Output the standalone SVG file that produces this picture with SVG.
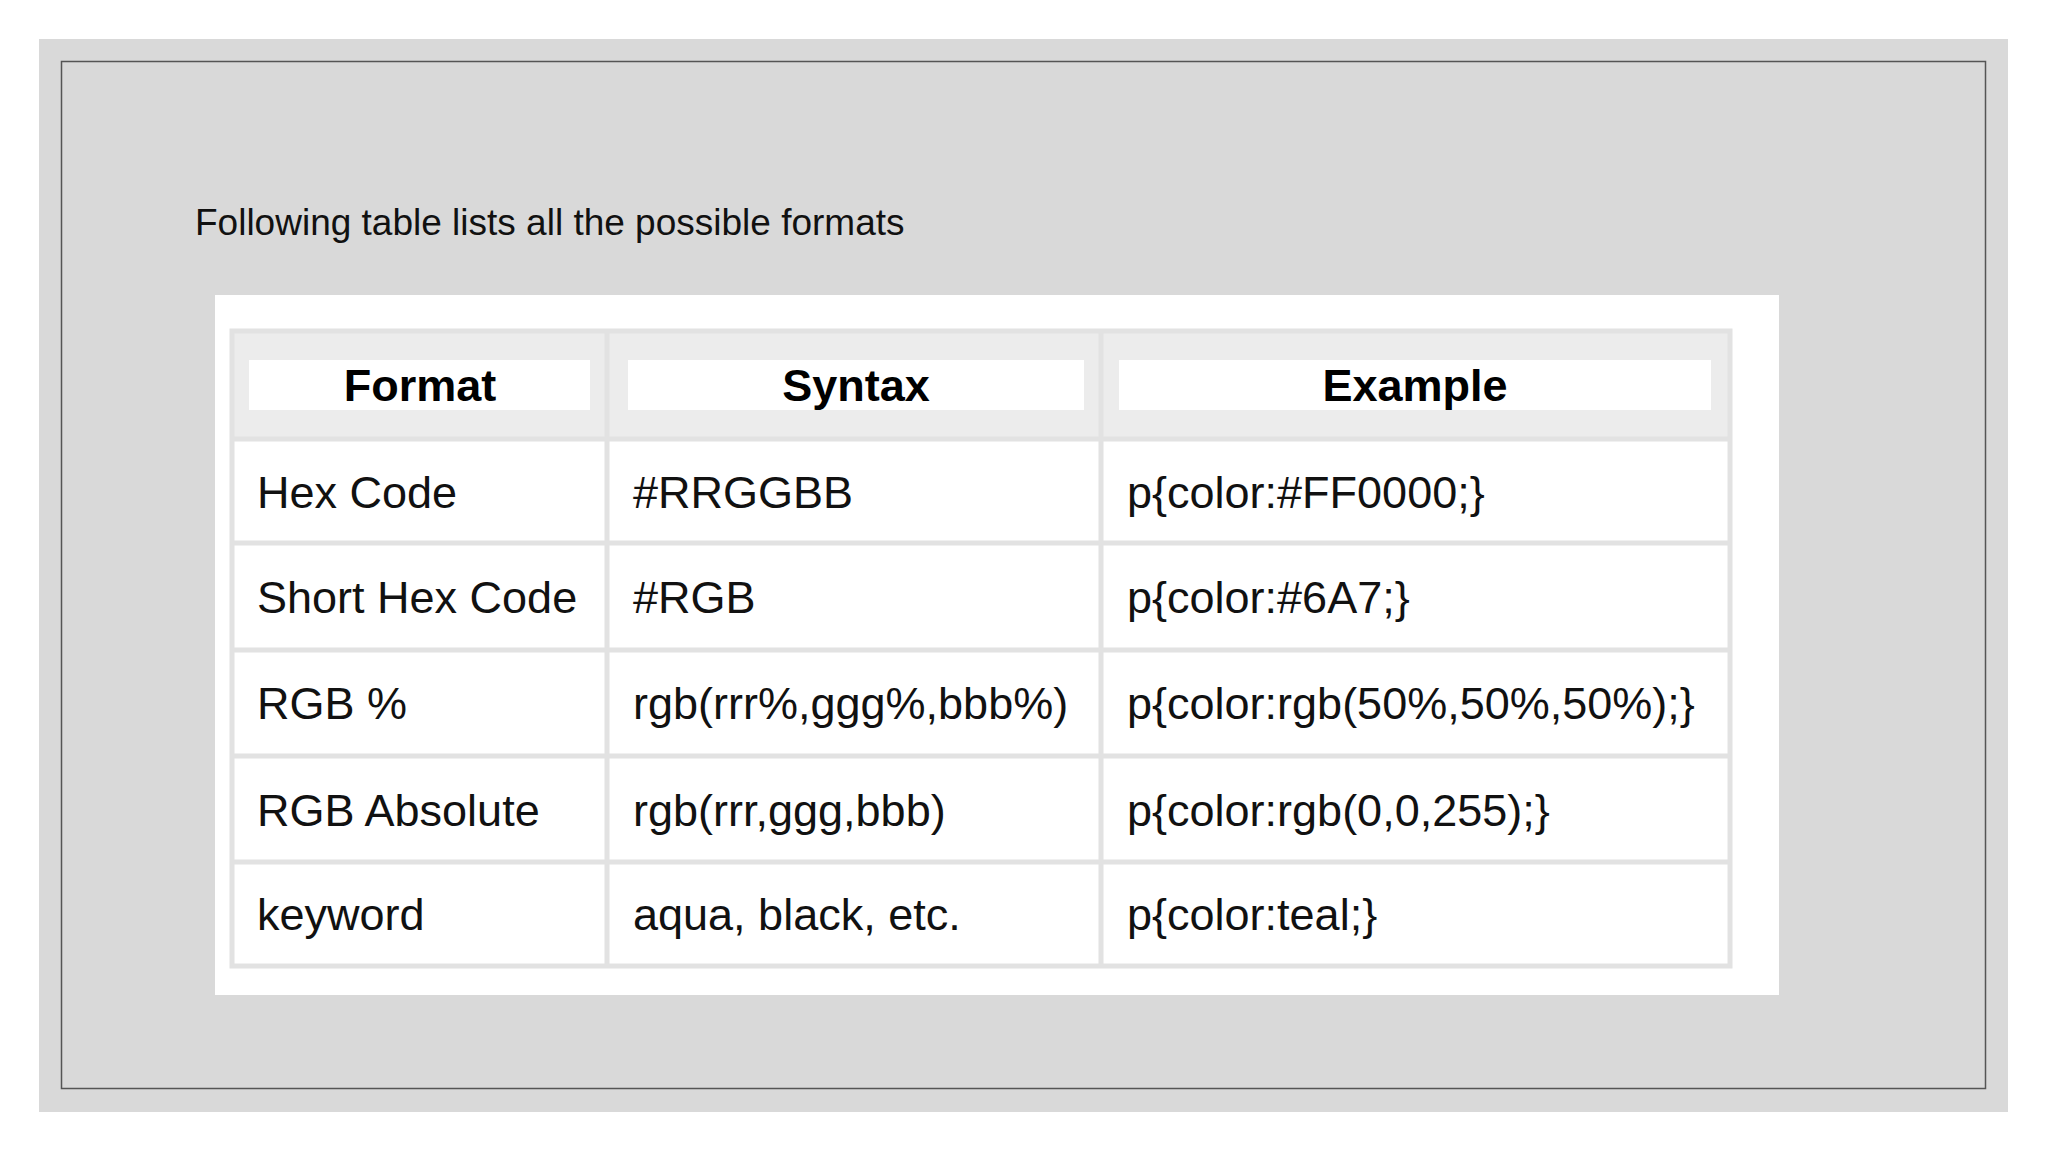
<svg xmlns="http://www.w3.org/2000/svg" width="2048" height="1152" viewBox="0 0 2048 1152">
<style>
.t{font-family:"Liberation Sans",Arial,sans-serif;font-size:45px;fill:#111}
.h{font-family:"Liberation Sans",Arial,sans-serif;font-size:45px;font-weight:bold;fill:#000;text-anchor:middle}
.g{stroke:#e2e2e2;stroke-width:5;fill:none}
</style>
<rect width="2048" height="1152" fill="#fff"/>
<rect x="39" y="39" width="1969" height="1073" fill="#d9d9d9"/>
<rect x="61.5" y="61.5" width="1924" height="1027" fill="none" stroke="#555" stroke-width="1.5"/>
<text x="195" y="235" font-family="Liberation Sans, Arial, sans-serif" font-size="37" fill="#111">Following table lists all the possible formats</text>
<rect x="215" y="295" width="1564" height="700" fill="#fff"/>
<g id="table">
<rect x="230" y="329" width="1502" height="110" fill="#ececec"/>
<rect x="249" y="360" width="341" height="50" fill="#fff"/>
<rect x="628" y="360" width="456" height="50" fill="#fff"/>
<rect x="1119" y="360" width="592" height="50" fill="#fff"/>
<rect class="g" x="232" y="331" width="1498" height="635"/>
<path class="g" d="M607 331V966M1101 331V966M232 439H1730M232 543H1730M232 650H1730M232 756H1730M232 862H1730"/>
</g>
<g id="header">
<text class="h" x="420" y="401">Format</text>
<text class="h" x="856" y="401">Syntax</text>
<text class="h" x="1415" y="401">Example</text>
</g>
<g id="row1"><text class="t" x="257" y="508">Hex Code</text><text class="t" x="633" y="508">#RRGGBB</text><text class="t" x="1127" y="508">p{color:#FF0000;}</text></g>
<g id="row2"><text class="t" x="257" y="613">Short Hex Code</text><text class="t" x="633" y="613">#RGB</text><text class="t" x="1127" y="613">p{color:#6A7;}</text></g>
<g id="row3"><text class="t" x="257" y="719">RGB %</text><text class="t" x="633" y="719">rgb(rrr%,ggg%,bbb%)</text><text class="t" x="1127" y="719">p{color:rgb(50%,50%,50%);}</text></g>
<g id="row4"><text class="t" x="257" y="826">RGB Absolute</text><text class="t" x="633" y="826">rgb(rrr,ggg,bbb)</text><text class="t" x="1127" y="826">p{color:rgb(0,0,255);}</text></g>
<g id="row5"><text class="t" x="257" y="930">keyword</text><text class="t" x="633" y="930">aqua, black, etc.</text><text class="t" x="1127" y="930">p{color:teal;}</text></g>
</svg>
